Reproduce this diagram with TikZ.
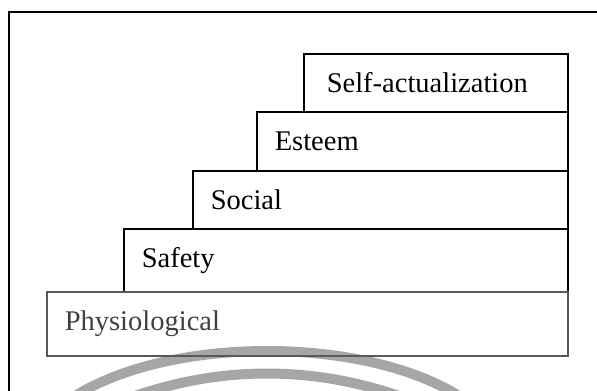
\documentclass[tikz,border=0pt]{standalone}
\usepackage{fontspec}
\setmainfont{Liberation Serif}
\usetikzlibrary{positioning}

\begin{document}
\begin{tikzpicture}[x=0.5pt, y=-0.5pt,
  level/.style={draw, line width=0.8pt, anchor=north west, align=left,
    inner xsep=9pt, font=\fontsize{14.25}{17}\selectfont},
  stamp/.style={draw=black!35, line width=5pt}]
            \useasboundingbox (0,0) rectangle (597,390);

            \draw [stamp] (75,396) .. controls (171,336) and (363,336) .. (459,396);
            \draw [stamp] (135,396) .. controls (222,366) and (312,366) .. (399,396);

            \draw [line width=0.8pt] (9,392) -- (9,12) -- (599,12);

            \node [level, text width=114pt, minimum height=29pt] (self) at (303,53) {\hspace{2.5pt}Self-actualization};
            \node [level, text width=137.5pt, minimum height=29.5pt] (esteem) at (256,111) {Esteem};
            \node [level, text width=169.5pt, minimum height=29pt] (social) at (192,170) {Social};
            \node [level, text width=204pt, minimum height=31.5pt] (safety) at (123,228) {Safety};
            \node [level, draw=black!65, text=black!75, text width=242.5pt, minimum height=32pt] (physio) at (46,291) {Physiological};
        \end{tikzpicture}
\end{document}
